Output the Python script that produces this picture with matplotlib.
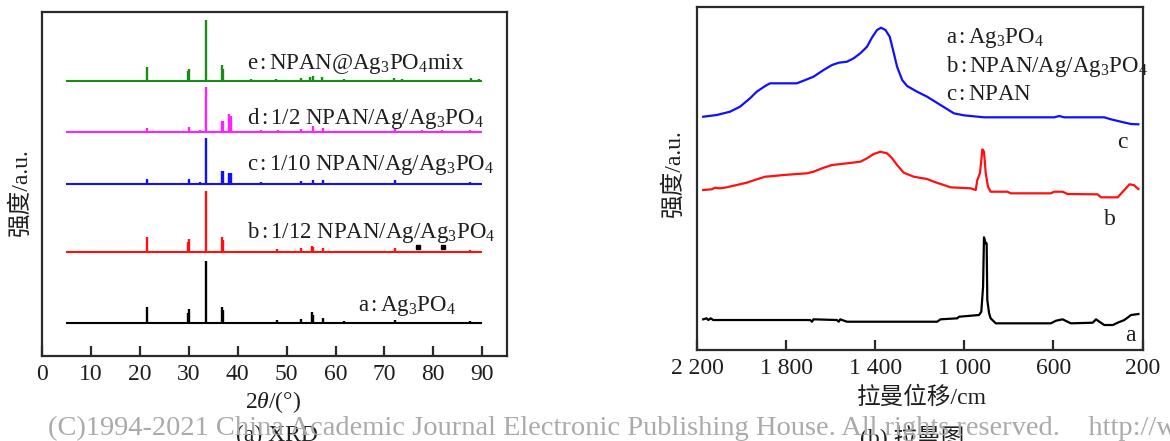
import matplotlib
matplotlib.use('Agg')
import matplotlib.pyplot as plt

plt.rcParams['font.family'] = ['Liberation Serif', 'Noto Sans CJK SC']
plt.rcParams['mathtext.fontset'] = 'custom'
plt.rcParams['mathtext.rm'] = 'Liberation Serif'
plt.rcParams['mathtext.it'] = 'Liberation Serif:italic'

# ---- (a) XRD: peak positions (2theta) and heights per sample ----
xrd_range = [5, 90]
xrd_offsets = [33, 104, 172, 224, 275]

a_pos = [21.4, 29.8, 30.1, 33.5, 36.7, 37.0, 48.0, 52.9, 55.2, 55.5, 57.4, 61.8, 72.1, 87.5]
a_h = [16, 10, 14, 62.5, 16, 13, 3, 4, 11, 8, 5, 2, 3, 2]

b_pos = [21.4, 29.8, 30.1, 33.5, 36.7, 37.0, 48.0, 52.9, 55.2, 55.5, 57.4, 61.8, 72.1, 87.5]
b_h = [15, 10, 13, 61.5, 15, 12, 3, 4, 6, 5, 4, 1.5, 4, 2]
b_marks = [76.8, 81.9]

c_pos = [21.4, 30.1, 32.4, 33.5, 36.7, 37.1, 38.2, 38.6, 44.7, 48.2, 52.9, 55.3, 57.4, 61.8, 72.1, 87.5]
c_h = [5, 5, 2, 46, 13, 13, 11, 11, 2, 1.5, 3, 4, 4, 1.5, 4, 2]

d_pos = [21.4, 30.1, 32.4, 33.5, 36.7, 37.0, 38.2, 38.6, 44.7, 48.3, 52.9, 55.3, 57.4,
         61.9, 64.8, 72.1, 77.7, 81.7, 87.5]
d_h = [4, 5.5, 2, 45.5, 11.5, 11.5, 18, 16, 2, 2, 3, 6.5, 4, 1.5, 1.5, 4, 2, 2, 2]

e_pos = [21.4, 29.8, 30.1, 33.5, 36.7, 37.0, 42.8, 47.8, 53.0, 54.8, 55.5, 57.3, 61.7,
         71.9, 73.6, 87.6, 89.3]
e_h = [14, 10, 12.5, 61, 16, 12, 2, 2, 3, 4, 5, 4, 2, 3, 2, 3, 2]

xrd_labels = [r'a$\,$:$\,$Ag$_3$PO$_4$',
              r'b$\,$:$\,$1/12 NPAN/Ag/Ag$_3$PO$_4$',
              r'c$\,$:$\,$1/10 NPAN/Ag/Ag$_3$PO$_4$',
              r'd$\,$:$\,$1/2 NPAN/Ag/Ag$_3$PO$_4$',
              r'e$\,$:$\,$NPAN@Ag$_3$PO$_4$mix']
xrd_colors = ['black', '#ff1010', '#1010ff', '#ff20ff', '#1a8a1a']

# ---- (b) Raman spectra (shift in cm-1, intensity) ----
raman_c_x = [2172, 2112, 2052, 2007, 1962, 1932, 1894, 1872, 1752, 1722, 1677, 1632, 1594,
             1564, 1527, 1497, 1467, 1437, 1414, 1392, 1374, 1354, 1335, 1320, 1302, 1279,
             1257, 1212, 1167, 1107, 1047, 1002, 912, 597, 574, 552, 372, 342, 297, 252, 219]
raman_c_y = [233.3, 235, 238.3, 243.3, 251.7, 258.3, 264, 266.7, 266.7, 269.3, 273.3, 280,
             285, 287.3, 288.3, 291.7, 296.7, 303.3, 312.7, 320, 322.3, 320, 313.3, 300,
             283.3, 270, 264, 258.3, 253.3, 245, 236.7, 234.7, 232.7, 232.7, 234, 232.7,
             232.7, 230.7, 228.3, 226, 225.7]

raman_b_x = [2172, 2134, 2119, 2097, 2067, 2022, 1977, 1932, 1894, 1857, 1812, 1752, 1707,
             1677, 1639, 1594, 1527, 1467, 1437, 1407, 1377, 1347, 1324, 1302, 1272, 1227,
             1167, 1137, 1092, 1062, 972, 949, 942, 930, 919, 912, 904, 894, 882, 807, 792,
             612, 597, 559, 537, 402, 387, 312, 282, 259, 240, 219]
raman_b_y = [160, 160.7, 162.3, 161.7, 162.7, 165, 167.3, 170.7, 173.3, 174, 175, 176,
             176.7, 178.3, 181.7, 185, 186.7, 188.3, 191.7, 196, 198.3, 196.7, 191.7, 185,
             177.3, 173.3, 171, 168.3, 165, 162.7, 161.7, 160, 170, 176.7, 200.7, 198.3,
             176.7, 163.3, 158.3, 158.3, 156.7, 156.7, 158.3, 158.3, 156, 155.7, 152.7,
             152.7, 160, 165.7, 165, 161]

raman_a_x = [2172, 2157, 2149, 2139, 2127, 1692, 1684, 1677, 1572, 1564, 1557, 1527, 1122,
             1107, 1032, 1024, 934, 924, 916, 912, 904, 900, 897, 889, 882, 859, 612, 589,
             559, 537, 522, 424, 409, 394, 372, 334, 312, 282, 252, 219]
raman_a_y = [30.7, 31.7, 30, 31.7, 30, 30, 28.3, 30.7, 30, 28.3, 30.7, 28.3, 28.3, 30.7,
             31.7, 33.3, 35, 38.3, 63.3, 112.7, 106.7, 106.7, 50, 36.7, 31.7, 26.7, 26.7,
             29.3, 30.7, 28.3, 26.7, 27.3, 30.7, 28.3, 25, 25, 27.3, 30, 35, 36]

raman_legend = [r'a$\,$:$\,$Ag$_3$PO$_4$', r'b$\,$:$\,$NPAN/Ag/Ag$_3$PO$_4$', r'c$\,$:$\,$NPAN']
raman_ticks = [2200, 1800, 1400, 1000, 600, 200]
raman_ticklabels = ['2 200', '1 800', '1 400', '1 000', '600', '200']

fig = plt.figure(figsize=(11.7, 4.41), dpi=100)
ax1 = fig.add_axes([0.0359, 0.1927, 0.3972, 0.7800])
ax2 = fig.add_axes([0.5957, 0.2063, 0.3809, 0.7771])

spine_col = '#2a2a2a'
txt_col = '#1e1e1e'
for ax in (ax1, ax2):
    for s in ax.spines.values():
        s.set_color(spine_col)
        s.set_linewidth(1.6)
    ax.tick_params(axis='x', direction='in', length=7, width=1.6, color=spine_col,
                   labelsize=17, labelcolor=txt_col, pad=6, top=False)
    ax.tick_params(axis='y', left=False, labelleft=False)

# XRD traces
peaks = [(a_pos, a_h), (b_pos, b_h), (c_pos, c_h), (d_pos, d_h), (e_pos, e_h)]
for (pos, h), base, col in zip(peaks, xrd_offsets, xrd_colors):
    ax1.hlines(base, xrd_range[0], xrd_range[1], color=col, lw=1.5)
    ax1.vlines(pos, base, [base + v for v in h], color=col, lw=1.7)
ax1.plot(b_marks, [xrd_offsets[1] + 5] * len(b_marks), 's', color='black', ms=3.5)

label_xy = [(64.5, 45), (42, 118.5), (42, 186), (42, 232.5), (42, 287.5)]
for (lx, ly), txt in zip(label_xy, xrd_labels):
    ax1.text(lx, ly, txt, fontsize=16.5, color=txt_col, va='baseline', ha='left')

ax1.set_xlim(0, 95)
ax1.set_ylim(0, 344)
ax1.set_xticks(range(0, 100, 10))

# Raman traces
ax2.plot(raman_c_x, raman_c_y, color='#1010ff', lw=1.6)
ax2.plot(raman_b_x, raman_b_y, color='#ff1010', lw=1.6)
ax2.plot(raman_a_x, raman_a_y, color='black', lw=1.6)
ax2.set_xlim(2200, 200)
ax2.set_ylim(0, 342.7)
ax2.set_xticks(raman_ticks)
ax2.set_xticklabels(raman_ticklabels)

for txt, yy in zip(raman_legend, [306.7, 278.3, 250]):
    ax2.text(1084, yy, txt, fontsize=16.5, color=txt_col, va='baseline', ha='left')
for lab, lx, ly in [('c', 315, 201.7), ('b', 372, 125), ('a', 279, 9.3)]:
    ax2.text(lx, ly, lab, fontsize=17, color=txt_col, va='baseline', ha='left')

# axis titles and captions
fig.text(0.0171, 0.5646, '强度/a.u.', rotation=90, fontsize=17, ha='center', va='center',
         color=txt_col)
fig.text(0.5752, 0.6077, '强度/a.u.', rotation=90, fontsize=17, ha='center', va='center',
         color=txt_col)
fig.text(0.2333, 0.0884, r'2$\it{\theta}$/(°)', fontsize=17, ha='center', va='center',
         color=txt_col)
fig.text(0.7878, 0.0975, '拉曼位移/cm', fontsize=17, ha='center', va='center', color=txt_col)
fig.text(0.2368, 0.036, '(a) XRD', fontsize=17, ha='center', va='top', color=txt_col)
fig.text(0.7795, 0.036, '(b) 拉曼图', fontsize=17, ha='center', va='top', color=txt_col)

fig.text(0.041, 0.0295,
         '(C)1994-2021 China Academic Journal Electronic Publishing House. All rights reserved.'
         '    http://www.cnki.net',
         fontsize=20.5, ha='left', va='center', color='#aaaaaa', family='Liberation Serif')

fig.savefig('out.png', dpi=100)
